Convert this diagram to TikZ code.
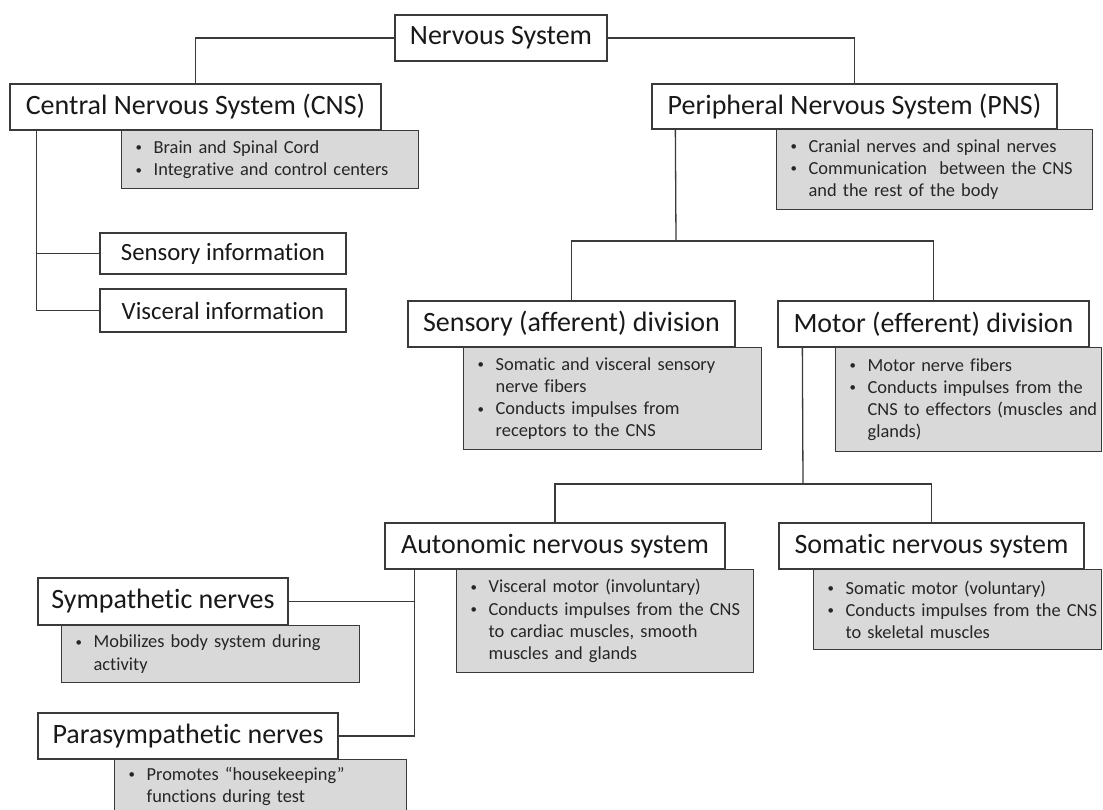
\documentclass[tikz,border=0pt]{standalone}
\usepackage{fontspec}
\setmainfont{Carlito}[Ligatures=NoCommon]
\newdimen\pxu \pxu=0.75pt
\definecolor{gboxfill}{HTML}{D9D9D9}
\definecolor{edgecol}{HTML}{3A3A3A}
\newcommand{\bl}[1]{\mbox{\makebox[18\pxu][l]{\raisebox{0.18ex}{\scalebox{0.7}{\textbullet}}}#1}}
\newcommand{\cl}[1]{\mbox{\hspace*{18\pxu}#1}}
\tikzset{
  titlebox/.style={draw=edgecol, line width=1.3\pxu, fill=white, inner sep=0pt,
    font=\fontsize{21}{25}\selectfont, text=black!90},
  infobox/.style={titlebox, font=\fontsize{18.6}{22}\selectfont},
  graybox/.style={draw=edgecol, line width=1.3\pxu, fill=gboxfill, anchor=north west,
    inner xsep=14\pxu, inner ysep=0pt, align=left,
    font=\fontsize{13.8}{16.7}\selectfont, text=black!85},
  conn/.style={draw=edgecol, line width=1.3\pxu}
}
\begin{document}
\begin{tikzpicture}[x=0.75pt,y=-0.75pt]
\useasboundingbox (0,0) rectangle (1103,810);
% title boxes
\node[titlebox, minimum width=212\pxu, minimum height=46\pxu] (ns) at (501,38) {Nervous System};
\node[titlebox, minimum width=371\pxu, minimum height=46\pxu] (cns) at (195.5,107) {Central Nervous System (CNS)};
\node[titlebox, minimum width=405\pxu, minimum height=45\pxu] (pns) at (854.5,106.5) {Peripheral Nervous System (PNS)};
\node[infobox, minimum width=246\pxu, minimum height=41\pxu] (sinfo) at (223,253.5) {Sensory information};
\node[infobox, minimum width=246\pxu, minimum height=43\pxu] (vinfo) at (223,310.5) {Visceral information};
\node[titlebox, minimum width=327\pxu, minimum height=46\pxu] (sens) at (571.5,324) {Sensory (afferent) division};
\node[titlebox, minimum width=311\pxu, minimum height=46\pxu] (motor) at (933.5,324) {Motor (efferent) division};
\node[titlebox, minimum width=340\pxu, minimum height=46\pxu] (auto) at (555,546) {Autonomic nervous system};
\node[titlebox, minimum width=305\pxu, minimum height=46\pxu] (soma) at (931.5,546) {Somatic nervous system};
\node[titlebox, minimum width=250\pxu, minimum height=47\pxu] (symp) at (163,601.5) {Sympathetic nerves};
\node[titlebox, minimum width=300\pxu, minimum height=46\pxu] (para) at (188,736) {Parasympathetic nerves};
% gray description boxes
\node[graybox, text width=269\pxu, minimum height=58\pxu] (cnsg) at (121,130)
  {\bl{Brain and Spinal Cord}\\\bl{Integrative and control centers}};
\node[graybox, text width=288\pxu, minimum height=80\pxu] (pnsg) at (776,129)
  {\bl{Cranial nerves and spinal nerves}\\\bl{Communication\ \ between the CNS}\\\cl{and the rest of the body}};
\node[graybox, text width=270\pxu, minimum height=102\pxu] (sensg) at (463,347)
  {\bl{Somatic and visceral sensory}\\\cl{nerve fibers}\\\bl{Conducts impulses from}\\\cl{receptors to the CNS}};
\node[graybox, text width=238\pxu, minimum height=104\pxu] (motorg) at (835,347)
  {\bl{Motor nerve fibers}\\\bl{Conducts impulses from the}\\\cl{CNS to effectors (muscles and}\\\cl{glands)}};
\node[graybox, text width=269\pxu, minimum height=103\pxu] (autog) at (456,569)
  {\bl{Visceral motor (involuntary)}\\\bl{Conducts impulses from the CNS}\\\cl{to cardiac muscles, smooth}\\\cl{muscles and glands}};
\node[graybox, text width=260\pxu, minimum height=80\pxu] (somag) at (813,569)
  {\bl{Somatic motor (voluntary)}\\\bl{Conducts impulses from the CNS}\\\cl{to skeletal muscles}};
\node[graybox, text width=270\pxu, minimum height=57\pxu] (sympg) at (61,625)
  {\bl{Mobilizes body system during}\\\cl{activity}};
\node[graybox, text width=264\pxu, minimum height=53\pxu] (parag) at (114,759)
  {\bl{Promotes “housekeeping”}\\\cl{functions during test}};
% junction coordinates
\coordinate (cnsj) at ([xshift=27\pxu]cns.south west);
\coordinate (pnsj) at ([xshift=24\pxu]pns.south west);
\coordinate (motj) at ([xshift=25\pxu]motor.south west);
\coordinate (autj) at ([xshift=30\pxu]auto.south west);
\coordinate (pnsbar) at (676,241);
\coordinate (motbar) at (803,484);
% connectors
\draw[conn] (ns.west) -| (cns.north);
\draw[conn] (ns.east) -| (pns.north);
\draw[conn] (cnsj) -- (cnsj |- vinfo.west) -- (vinfo.west);
\draw[conn] (sinfo.west -| cnsj) -- (sinfo.west);
\draw[conn] (pnsj) -- (pnsbar);
\draw[conn] (sens.north) |- (pnsbar) -| (motor.north);
\draw[conn] (motj) -- (motbar);
\draw[conn] (auto.north) |- (motbar) -| (soma.north);
\draw[conn] (autj) -- (autj |- para.east) -- (para.east);
\draw[conn] (symp.east) -- (symp.east -| autj);
\end{tikzpicture}
\end{document}
